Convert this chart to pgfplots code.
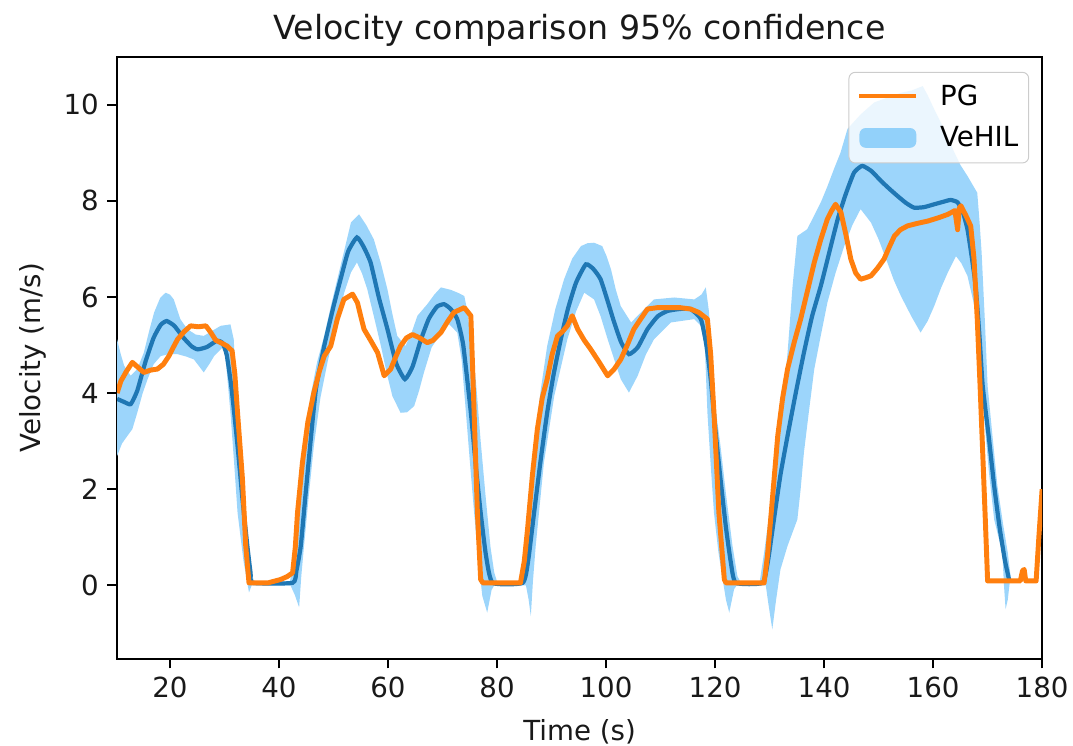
\documentclass[border=0pt]{standalone}
\usepackage{pgfplots}
\pgfplotsset{compat=1.18}
\usepgfplotslibrary{fillbetween}
\usepackage{fontspec}
\setmainfont{DejaVu Sans}
\definecolor{pgorange}{HTML}{FF7F0E}
\definecolor{meanblue}{HTML}{1F77B4}
\definecolor{bandblue}{RGB}{156,213,251}
\definecolor{legpatch}{RGB}{146,209,250}
\pgfplotsset{
  mylinelegend/.style={legend image code/.code={\draw[##1] (0pt,0.5pt) -- (23pt,0.5pt);}},
  myarealegend/.style={legend image code/.code={\fill[##1] (0pt,-4pt) rectangle (23pt,4pt);}},
}

\pgfplotstableread{
x y
10.3 3.88
11.5 3.82
12.8 3.77
14.0 4.05
15.5 4.65
17.0 5.15
18.3 5.42
19.4 5.50
20.8 5.40
22.5 5.15
24.0 4.97
25.1 4.91
26.8 4.96
28.6 5.09
29.6 5.05
30.4 4.80
31.3 4.10
32.4 2.90
33.3 1.80
34.2 0.82
34.8 0.25
35.2 0.05
42.5 0.05
43.2 0.30
44.0 0.82
44.8 1.80
45.8 3.00
46.8 4.10
48.3 4.98
50.0 5.80
51.3 6.37
52.7 6.95
54.3 7.24
55.5 7.05
56.8 6.72
58.3 6.00
59.9 5.33
61.5 4.62
63.1 4.29
64.5 4.55
66.0 5.10
67.5 5.55
69.0 5.80
70.3 5.85
71.5 5.75
72.7 5.54
73.8 5.00
75.2 3.59
76.1 2.50
77.0 1.51
78.0 0.60
79.2 0.05
84.7 0.05
85.7 0.50
86.8 1.51
88.0 2.60
89.2 3.59
90.4 4.40
91.7 5.12
93.0 5.75
94.5 6.30
96.3 6.68
97.7 6.58
99.0 6.37
100.2 5.95
101.5 5.47
102.8 5.05
104.2 4.81
105.8 4.95
107.6 5.33
109.5 5.60
111.3 5.71
113.5 5.75
115.5 5.75
117.4 5.54
118.4 5.00
119.2 4.29
120.0 3.30
121.0 2.21
122.0 1.20
122.9 0.47
123.8 0.05
128.7 0.05
129.7 0.50
130.8 1.37
132.0 2.30
133.3 3.11
134.8 4.00
136.3 4.84
137.8 5.60
139.4 6.23
141.0 6.95
142.5 7.62
144.0 8.15
145.5 8.59
147.0 8.73
148.7 8.62
150.4 8.42
152.0 8.25
153.5 8.10
155.0 7.96
156.5 7.86
158.3 7.87
160.2 7.93
161.8 7.98
163.2 8.02
164.5 7.97
165.5 7.75
166.3 7.41
167.0 6.90
167.8 6.23
168.5 5.20
169.1 4.15
170.2 3.10
171.2 2.07
172.2 1.20
173.2 0.50
174.0 0.09
}\meantab

\pgfplotstableread{
x y
10.3 4.00
11.0 4.25
12.0 4.45
13.1 4.64
14.0 4.55
15.2 4.43
16.5 4.48
17.7 4.50
18.8 4.60
19.8 4.77
20.6 4.95
21.4 5.12
22.6 5.28
23.8 5.40
25.2 5.38
26.6 5.40
27.5 5.26
28.4 5.10
29.3 5.05
30.5 4.98
31.4 4.88
31.9 4.40
32.4 3.59
33.3 2.21
33.9 0.82
34.5 0.05
38.0 0.05
40.3 0.12
41.5 0.18
42.5 0.26
43.0 0.80
43.4 1.51
44.3 2.55
45.3 3.40
46.4 4.01
47.4 4.45
48.3 4.77
49.5 4.98
50.7 5.54
51.9 5.95
53.5 6.06
54.4 5.88
55.0 5.60
55.6 5.33
56.8 5.10
58.1 4.84
59.3 4.36
60.5 4.50
61.4 4.75
62.3 4.98
63.4 5.15
64.5 5.22
65.8 5.15
67.2 5.05
68.3 5.10
69.7 5.26
71.0 5.50
72.1 5.68
74.0 5.78
75.2 5.61
75.8 3.59
76.4 1.51
77.0 0.12
77.4 0.05
84.3 0.05
85.0 0.50
85.6 1.17
86.5 2.30
87.4 3.25
88.3 3.90
89.2 4.29
90.1 4.80
91.1 5.19
92.0 5.28
92.9 5.40
93.8 5.61
94.8 5.33
96.0 5.10
97.2 4.91
98.7 4.65
100.3 4.36
101.5 4.50
102.7 4.70
103.9 5.00
105.1 5.33
106.4 5.55
107.6 5.75
109.5 5.78
111.3 5.78
113.5 5.78
115.5 5.75
117.0 5.68
118.6 5.54
119.2 4.80
119.8 3.59
120.7 1.51
121.7 0.12
122.0 0.05
129.0 0.05
129.6 0.60
130.2 1.37
131.5 3.11
132.4 3.90
133.3 4.50
134.5 5.05
135.7 5.54
137.0 6.15
138.2 6.72
139.4 7.20
140.6 7.62
141.4 7.80
142.1 7.93
143.1 7.76
144.0 7.30
144.9 6.79
145.8 6.50
146.7 6.37
147.6 6.40
148.6 6.44
149.8 6.60
151.0 6.79
152.0 7.05
152.9 7.27
154.0 7.40
155.3 7.48
157.0 7.53
159.0 7.58
161.0 7.65
162.7 7.72
164.0 7.80
164.5 7.40
164.8 7.85
165.1 7.90
166.0 7.70
166.9 7.48
167.5 6.80
168.1 5.54
168.6 4.20
169.1 2.76
169.6 1.30
170.0 0.09
176.0 0.09
176.4 0.30
176.7 0.33
177.0 0.09
178.9 0.09
179.4 1.00
180.0 2.00
}\pgtab

\pgfplotstableread{
x y
10.3 5.12
11.0 4.80
11.6 4.57
12.8 4.36
14.0 4.50
15.2 4.84
16.2 5.30
17.1 5.68
18.2 5.98
19.2 6.09
20.0 6.05
20.7 5.95
21.9 5.54
23.2 5.33
24.7 5.22
26.2 5.19
27.8 5.30
29.3 5.40
31.1 5.43
31.7 5.12
32.4 3.59
33.6 1.51
34.8 0.26
35.5 0.08
42.0 0.08
42.5 0.33
43.3 1.10
44.3 2.21
45.0 3.10
45.8 3.94
47.0 4.65
48.3 5.19
49.5 5.80
50.7 6.37
52.0 6.98
53.2 7.55
54.7 7.72
56.0 7.50
57.4 7.20
58.7 6.70
59.9 6.16
60.8 5.65
61.7 5.19
63.2 4.98
64.3 5.25
65.4 5.61
67.2 5.85
68.5 6.05
69.7 6.20
71.5 6.15
73.0 6.08
74.0 6.02
74.6 5.68
75.3 5.00
76.1 4.29
77.0 3.00
77.9 1.86
78.8 0.80
79.5 0.26
80.0 0.08
84.2 0.08
84.7 0.26
85.8 1.50
86.8 2.90
88.0 4.05
89.2 4.98
90.7 5.75
92.3 6.37
93.8 6.80
95.4 7.06
96.6 7.12
97.8 7.13
99.3 7.06
100.1 6.85
100.9 6.58
101.8 6.15
102.7 5.81
104.6 5.47
106.4 5.68
108.8 5.95
112.5 5.99
116.2 5.95
117.5 6.05
118.3 6.20
118.9 5.68
119.5 4.50
120.2 3.59
121.0 2.90
122.0 1.90
123.2 0.82
124.1 0.19
124.6 0.08
128.2 0.08
129.0 0.68
130.2 1.70
131.5 2.76
132.4 3.80
133.3 4.84
134.2 6.20
135.1 7.27
136.9 7.41
138.2 7.70
139.4 7.97
140.6 8.30
141.8 8.66
143.0 9.00
144.3 9.50
146.7 9.80
149.2 10.05
151.6 10.15
154.1 10.25
156.1 10.30
158.1 10.39
159.0 10.20
160.2 9.91
162.0 9.50
163.9 9.01
165.0 8.75
166.3 8.52
168.1 8.17
168.5 7.60
168.9 6.93
169.5 5.50
170.0 4.15
170.9 3.10
171.8 2.07
172.8 1.30
173.7 0.68
174.2 0.20
}\uptab

\pgfplotstableread{
x y
10.3 2.69
11.2 2.95
12.2 3.11
13.1 3.25
14.0 3.59
15.0 4.00
15.9 4.29
17.0 4.60
18.3 4.77
19.8 4.81
21.4 4.81
23.0 4.76
24.4 4.70
25.4 4.55
26.2 4.43
27.2 4.60
28.1 4.77
29.9 4.98
30.3 4.60
31.1 3.59
31.8 2.50
32.4 1.51
33.5 0.50
34.5 -0.15
35.0 0.00
42.1 0.00
42.9 -0.20
43.7 -0.46
44.1 0.20
44.6 0.82
45.5 1.90
46.4 2.90
47.6 3.90
48.9 4.64
50.7 5.54
52.0 6.10
53.2 6.51
54.3 6.72
55.2 6.50
56.2 6.16
57.4 5.60
58.7 4.98
59.8 4.40
60.8 3.94
62.3 3.59
63.5 3.60
64.8 3.73
65.7 4.05
66.6 4.43
68.0 4.95
69.4 5.19
70.9 5.47
72.7 5.26
73.5 4.70
74.3 3.59
75.0 2.60
75.8 1.51
76.6 0.50
77.3 -0.22
78.2 -0.57
79.0 -0.10
79.5 0.00
85.3 0.00
85.8 -0.30
86.2 -0.64
86.6 0.10
87.1 0.82
88.6 2.55
90.5 3.94
92.9 5.12
94.5 5.70
96.0 6.09
97.8 5.95
99.0 5.60
100.3 5.12
101.5 4.70
102.7 4.29
104.2 4.01
105.8 4.36
107.3 4.80
108.8 5.12
111.9 5.47
116.2 5.54
118.0 5.33
118.6 3.59
119.2 2.50
119.8 1.51
120.6 0.70
121.4 0.12
122.0 -0.30
122.6 -0.57
123.5 -0.08
124.0 0.00
129.3 0.00
129.8 -0.40
130.5 -0.92
131.2 -0.30
132.0 0.33
133.3 0.82
135.1 1.37
135.7 2.00
136.3 2.76
137.2 3.60
138.2 4.50
139.4 5.20
140.6 5.88
142.1 6.50
143.7 7.06
145.2 7.50
146.7 7.83
148.6 7.55
150.0 7.20
151.6 6.72
152.8 6.35
154.1 6.02
156.0 5.60
157.7 5.26
159.0 5.50
160.2 5.81
161.5 6.20
162.7 6.51
164.2 6.85
165.2 6.70
166.3 6.44
167.2 6.00
168.1 5.54
168.7 4.50
169.4 3.46
170.2 2.40
171.2 1.37
172.0 1.00
172.7 0.68
173.0 0.00
173.3 -0.50
173.7 -0.30
174.2 0.20
}\lotab

\begin{document}
\begin{tikzpicture}
\begin{axis}[
  scale only axis,
  width=374.5pt, height=243.7pt,
  xmin=10.3, xmax=180,
  ymin=-1.53, ymax=11.0,
  xtick={20,40,60,80,100,120,140,160,180},
  ytick={0,2,4,6,8,10},
  tick align=outside,
  tick pos=left,
  major tick length=3.9pt,
  every tick/.style={black, line width=0.9pt},
  axis line style={line width=0.9pt},
  /pgf/number format/assume math mode=true,
  tick label style={font=\fontsize{11.2}{13}\selectfont, text=black!90},
  title style={font=\fontsize{13.45}{16}\selectfont, text=black!90,
    at={(axis description cs:0.5,1)}, anchor=base, yshift=0.9pt},
  title={Velocity comparison 95\% confidence},
  xlabel={Time (s)},
  ylabel={Velocity (m/s)},
  xlabel style={font=\fontsize{11.2}{13}\selectfont, text=black!90,
    at={(axis description cs:0.5,-0.1355)}, anchor=base},
  ylabel style={font=\fontsize{11.2}{13}\selectfont, text=black!90,
    at={(axis description cs:-0.0833,0.5)}, anchor=base},
  legend cell align=left,
  legend style={at={(0.986,0.975)}, anchor=north east,
    draw=black!20, rounded corners=2.5pt, fill=white, fill opacity=0.8, text opacity=1,
    font=\fontsize{11.2}{13}\selectfont, row sep=5pt, column sep=8pt,
    inner xsep=3.4pt, inner ysep=4.5pt,
    nodes={inner sep=0.8pt}},
]
\addlegendimage{color=pgorange, line width=1.7pt, mylinelegend}
\addlegendentry{PG}
\addlegendimage{fill=legpatch, fill opacity=1, draw=none, myarealegend}
\addlegendentry{VeHIL}

\addplot[name path=up, draw=none, forget plot] table {\uptab};
\addplot[name path=lo, draw=none, forget plot] table {\lotab};
\addplot[bandblue, forget plot] fill between[of=up and lo];
\addplot[meanblue, line width=1.7pt, smooth, tension=0.3, forget plot] table {\meantab};
\addplot[pgorange, line width=2pt, line join=round, forget plot] table {\pgtab};
\end{axis}
\path (current axis.south west) ++(-47.4pt,-35.2pt) coordinate (bbsw);
\path (current axis.north east) ++(12.5pt,23pt) coordinate (bbne);
\pgfresetboundingbox
\path[use as bounding box] (bbsw) rectangle (bbne);
\end{tikzpicture}
\end{document}
